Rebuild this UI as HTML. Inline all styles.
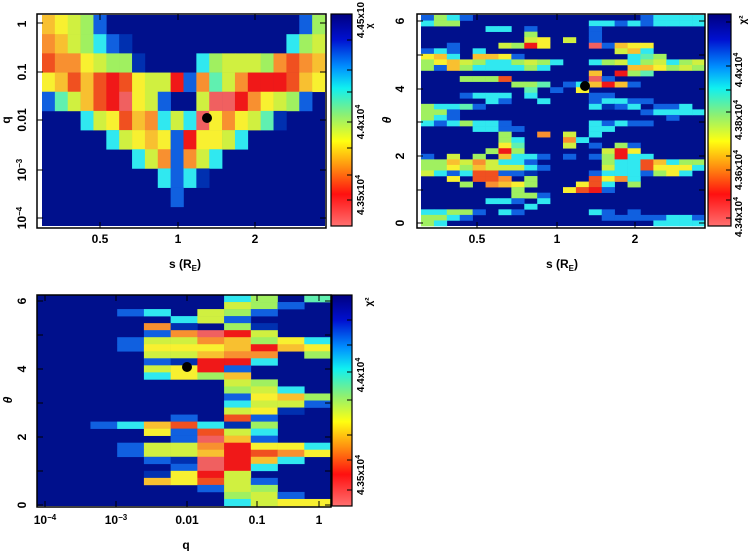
<!DOCTYPE html>
<html><head><meta charset="utf-8"><style>
html,body{margin:0;padding:0;background:#fff;width:754px;height:551px;overflow:hidden}
svg text{font-family:"Liberation Sans",sans-serif;font-weight:bold;fill:#000}
</style></head><body>
<svg id="s" width="754" height="551" xmlns="http://www.w3.org/2000/svg">
<defs>
<linearGradient id="cb" x1="0" y1="0" x2="0" y2="1">
<stop offset="0" stop-color="#000080"/><stop offset="0.12" stop-color="#0010d0"/>
<stop offset="0.25" stop-color="#0090ff"/><stop offset="0.35" stop-color="#10f0f0"/>
<stop offset="0.48" stop-color="#90f070"/><stop offset="0.6" stop-color="#ffff10"/>
<stop offset="0.72" stop-color="#ff9010"/><stop offset="0.85" stop-color="#ff1010"/>
<stop offset="1" stop-color="#ff7070"/></linearGradient>
<clipPath id="c2"><rect x="421" y="15" width="284" height="211"/></clipPath>
</defs>
<g id="g"></g>
<g font-size="12">
<text transform="translate(26,24) rotate(-90)" text-anchor="middle">1</text>
<text transform="translate(26,72) rotate(-90)" text-anchor="middle">0.1</text>
<text transform="translate(26,120) rotate(-90)" text-anchor="middle">0.01</text>
<text transform="translate(26,170) rotate(-90)" text-anchor="middle">10<tspan font-size="8" dy="-4">−3</tspan></text>
<text transform="translate(26,218) rotate(-90)" text-anchor="middle">10<tspan font-size="8" dy="-4">−4</tspan></text>
<text transform="translate(10,120) rotate(-90)" text-anchor="middle">q</text>
<text x="100" y="243" text-anchor="middle">0.5</text>
<text x="178" y="243" text-anchor="middle">1</text>
<text x="255" y="243" text-anchor="middle">2</text>
<text x="185" y="268" text-anchor="middle">s (R<tspan font-size="8" dy="3">E</tspan><tspan dy="-3">)</tspan></text>
<text transform="translate(364,20) rotate(-90)" text-anchor="middle" font-size="10">4.45x10</text>
<text transform="translate(364,122) rotate(-90)" text-anchor="middle" font-size="10">4.4x10<tspan font-size="7" dy="-4">4</tspan></text>
<text transform="translate(364,195) rotate(-90)" text-anchor="middle" font-size="10">4.35x10<tspan font-size="7" dy="-4">4</tspan></text>
<text transform="translate(372,26) rotate(-90)" text-anchor="middle" font-size="9">χ</text>
</g>
<g font-size="12">
<text transform="translate(404,223) rotate(-90)" text-anchor="middle">0</text>
<text transform="translate(404,156) rotate(-90)" text-anchor="middle">2</text>
<text transform="translate(404,89) rotate(-90)" text-anchor="middle">4</text>
<text transform="translate(404,21) rotate(-90)" text-anchor="middle">6</text>
<text transform="translate(391,120) rotate(-90)" text-anchor="middle" font-style="italic">θ</text>
<text x="477" y="243" text-anchor="middle">0.5</text>
<text x="557" y="243" text-anchor="middle">1</text>
<text x="635" y="243" text-anchor="middle">2</text>
<text x="562" y="268" text-anchor="middle">s (R<tspan font-size="8" dy="3">E</tspan><tspan dy="-3">)</tspan></text>
<text transform="translate(746,20) rotate(-90)" text-anchor="middle" font-size="10">χ²</text>
<text transform="translate(742,70) rotate(-90)" text-anchor="middle" font-size="10">4.4x10<tspan font-size="7" dy="-4">4</tspan></text>
<text transform="translate(742,120) rotate(-90)" text-anchor="middle" font-size="10">4.38x10<tspan font-size="7" dy="-4">4</tspan></text>
<text transform="translate(742,170) rotate(-90)" text-anchor="middle" font-size="10">4.36x10<tspan font-size="7" dy="-4">4</tspan></text>
<text transform="translate(742,217) rotate(-90)" text-anchor="middle" font-size="10">4.34x10<tspan font-size="7" dy="-4">4</tspan></text>
</g>
<g font-size="12">
<text transform="translate(26,505) rotate(-90)" text-anchor="middle">0</text>
<text transform="translate(26,437) rotate(-90)" text-anchor="middle">2</text>
<text transform="translate(26,369) rotate(-90)" text-anchor="middle">4</text>
<text transform="translate(26,301) rotate(-90)" text-anchor="middle">6</text>
<text transform="translate(12,400) rotate(-90)" text-anchor="middle" font-style="italic">θ</text>
<text x="45" y="524" text-anchor="middle">10<tspan font-size="8" dy="-4">−4</tspan></text>
<text x="116" y="524" text-anchor="middle">10<tspan font-size="8" dy="-4">−3</tspan></text>
<text x="187" y="524" text-anchor="middle">0.01</text>
<text x="257" y="524" text-anchor="middle">0.1</text>
<text x="319" y="524" text-anchor="middle">1</text>
<text x="186" y="549" text-anchor="middle">q</text>
<text transform="translate(372,302) rotate(-90)" text-anchor="middle" font-size="10">χ²</text>
<text transform="translate(364,375) rotate(-90)" text-anchor="middle" font-size="10">4.4x10<tspan font-size="7" dy="-4">4</tspan></text>
<text transform="translate(364,475) rotate(-90)" text-anchor="middle" font-size="10">4.35x10<tspan font-size="7" dy="-4">4</tspan></text>
</g>
</svg>
<script>
var C={N:"#00108c",B:"#1060e0",b:"#0030b0",C:"#30e8f0",T:"#60f0b0",G:"#a0f060",L:"#d0f040",Y:"#f8f030",O:"#f8c030",o:"#f89030",R:"#f05020",r:"#f01818",P:"#f06060"};
var g=document.getElementById('g'),NS="http://www.w3.org/2000/svg";
function el(n,a){var e=document.createElementNS(NS,n);for(var k in a)e.setAttribute(k,a[k]);g.appendChild(e);return e;}
function grid(rows,x0,y0,x1,y1,nc){var nr=rows.length;nc=nc||rows[0].length;var w=(x1-x0)/nc,h=(y1-y0)/nr;
el('rect',{x:x0,y:y0,width:x1-x0,height:y1-y0,fill:C.N});
for(var i=0;i<nr;i++)for(var j=0;j<nc&&j<rows[i].length;j++){var c=rows[i][j];if(c!='N'&&C[c])el('rect',{x:(x0+j*w).toFixed(2),y:(y0+i*h).toFixed(2),width:(w+0.3).toFixed(2),height:(h+0.3).toFixed(2),fill:C[c]});}}
function frame(x0,y0,x1,y1,yt,xt){el('rect',{x:x0,y:y0,width:x1-x0,height:y1-y0,fill:'none',stroke:'#000','stroke-width':1.5});
(yt||[]).forEach(function(y){el('line',{x1:x0,y1:y,x2:x0+6,y2:y,stroke:'#000'});el('line',{x1:x1,y1:y,x2:x1-6,y2:y,stroke:'#000'});});
(xt||[]).forEach(function(x){el('line',{x1:x,y1:y1,x2:x,y2:y1-6,stroke:'#000'});el('line',{x1:x,y1:y0,x2:x,y2:y0+6,stroke:'#000'});});}
function cbar(x0,y0,x1,y1,t){el('rect',{x:x0,y:y0,width:x1-x0,height:y1-y0,fill:'url(#cb)',stroke:'#000','stroke-width':1.2});
t.forEach(function(y){el('line',{x1:x1,y1:y,x2:x1-5,y2:y,stroke:'#000'});});}
var p1=["OYLGBNNNNNNNNNNNNNNNBG","oOLGCBbNNNNNNNNNNNNCGL","RooYLGGbNNNNCGLLLGoRoO","YORORrRYLLrBoTLorrrROY","BTLORrPYLBNNLPProYLGBN","NNNCLYROoCLCPYoYLTbNNN","NNNNNCLYOYBrYYLCNNNNNN","NNNNNNNCLoBoLCNNNNNNNN","NNNNNNNNNCBCbNNNNNNNNN","NNNNNNNNNNBNNNNNNNNNNN","NNNNNNNNNNNNNNNNNNNNNN"];
grid(p1,42,15,325,226);
frame(37,14,326,228,[23,72,120,170,218],[100,178,255]);
el('circle',{cx:207,cy:118,r:5,fill:'#000'});
cbar(331,14,352,226,[40,70,92,122,148,175,200]);
var p2=["BGCBNNNNNNNNNNNNNBCCCC","CGGNNNNNNNNNNCCBCBCCCC","NNNNNCCNBNNNNBNNNNNNNN","NNNNNNNNGNNNNBNNNNNNNN","NNNNNNNNLYNLNBNNNNNNNN","NNBNNNLGrYNNNPBOYYNNNN","BCBNCNNNNNNNNNNLOCNNNN","YOCNOOYBNNNNNNNNCTGNNN","GYOLGCCGLGCNNCGLCGLCGL","GBOGCCCCGCNNNNNNOOYGLG","NNNNNNNNNNNNNONrGTNNNN","NNNGGGRNNNNNNPBNNNNNNN","NNNNNNNGGTNBCOrOBNNNNN","NNNNNNNNTNBNYNNNNNNNNN","NNNBCCCNCNNNNBBNNNNNNN","NNNNNCBNNCNNNBCCBBNNNN","GCCTBNNNNNNNNCbBCNBBCN","GGBNNNNNNNNNNNNNNBCCCC","GCBNNNNNNNNNNNNNNNNBNN","CBCGCCBNNNNNNCBCBBNNNN","NNNNCCBBNNNNNCCNNNNNNN","NNNNNNGNNoNLNCNNNNNNNN","NNNNNNGCNNNoCNNNNNNNNN","NNNNNNYTNNNLNBNGBNNNNN","NNNNNGrGNNNNNNLrYNNNNN","BNLNGNOCCBNBNBGrCCNNNN","GGOLoLCCBNNNNNGCCROCGG","GGYGOLLLCBNNNNLCCRYYYC","LCBCRRBBbNNNNBCCCBGYCN","NNYNRRoNGNNNNRYoCNNNNN","NNNGNoOYGNNNYRCNGNNNNN","NNNNNNNGNNNYRrBNNNNNNN","NNNNNNNGGBNNNNNNNNNNNN","NNNNNCCBNCNNNNNNNNNNNN","NNNNNNNNCNNNNNNNNNNNNN","CCGGBNCBNNNNNCBNBNNNNN","GGCBNNNNNNNNNNBBBBBCCB","GCNNNNNNNNNNNNNNNNCCCC"];
grid(p2,421,15,705,226,22);
frame(417,14,705,228,[21,55,89,122,156,190,223],[477,557,635]);
el('circle',{cx:585,cy:86,r:5,fill:'#000'});
cbar(708,14,731,226,[22,66,90,112,156,170,200,218]);
var p3=["NNNNNNCGNT","NNNNNNLGBN","NNBCNLGBNN","NNNNCLBNNN","NNNobNGbNN","NNNBoPrLNN","NNBLLoOGYC","NNBYYYOrOY","NNNLLOooNG","NNNBbrrCNN","NNNLYrBNNN","NNNCYGONNN","NNNNNNLGNN","NNNNNNGLCN","NNNNNNBYOG","NNNNNNCLLB","NNNNNNLYbN","NNNNBNRBNN","NBCORCbGNN","NNNYBRLCNN","NNNNBPOBNN","NNBLLorYYC","NNBLLOrRoY","NNNBbPrOCN","NNNNBPrCNN","NNNbYrLNNN","NNNOYRLBNN","NNNNNBLGNN","NNNNNNGLBN","NNNNNNCLYY"].map(function(r){return 'N'+r;});
grid(p3,37,295,331,506);
frame(37,295,331,507,[301,335,369,403,437,471,505],[45,116,187,257,319]);
el('circle',{cx:187,cy:367,r:5,fill:'#000'});
cbar(332,295,352,506,[320,345,372,400,435,460,490]);
</script>
</body></html>
